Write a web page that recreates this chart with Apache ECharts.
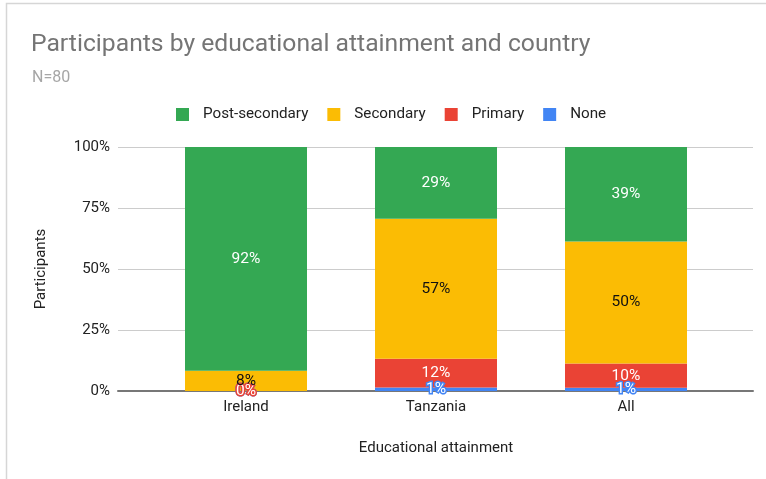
<!DOCTYPE html>
<html>
<head>
<meta charset="utf-8">
<style>
  html, body { margin: 0; padding: 0; background: #fff; }
  #chart { width: 766px; height: 479px; }
</style>
<script src="https://cdn.jsdelivr.net/npm/echarts@6/dist/echarts.min.js"></script>
</head>
<body>
<div id="chart"></div>
<script>
// Share of participants (%) in each education level, per country
const countries = ['Ireland', 'Tanzania', 'All'];
const noneShare = [0, 1.4, 1.3];
const primaryShare = [0, 11.8, 10.0];
const secondaryShare = [8.3, 57.4, 50.0];
const postSecondaryShare = [91.7, 29.4, 38.7];
const yTicks = [0, 25, 50, 75, 100];

const FONT = 'Roboto, "Noto Sans", Arial, sans-serif';
const COLORS = {
  post: '#34a853',
  secondary: '#fbbc04',
  primary: '#ea4335',
  none: '#4285f4'
};

const pct = p => Math.round(p.value) + '%';

function barSeries(name, data, color, labelStyle) {
  return {
    name: name,
    type: 'bar',
    stack: 'total',
    xAxisIndex: 1,
    yAxisIndex: 1,
    barWidth: 122,
    data: data,
    itemStyle: { color: color },
    label: Object.assign({
      show: true,
      position: 'inside',
      formatter: pct,
      fontFamily: FONT,
      fontSize: 15.5
    }, labelStyle)
  };
}

const chart = echarts.init(document.getElementById('chart'));
chart.setOption({
  backgroundColor: '#fff',
  animation: false,
  graphic: [{
    type: 'rect',
    shape: { x: 6.5, y: 3.5, width: 900, height: 600 },
    style: { fill: 'none', stroke: '#d6d6d6', lineWidth: 1.5 },
    silent: true,
    z: -10
  }],
  title: [{
    text: 'Participants by educational attainment and country',
    left: 31,
    top: 32,
    padding: 0,
    textStyle: { fontFamily: FONT, fontSize: 24.7, fontWeight: 'normal', color: '#757575' }
  }, {
    text: 'N=80',
    left: 32,
    top: 70,
    padding: 0,
    textStyle: { fontFamily: FONT, fontSize: 16, fontWeight: 'normal', color: '#a6a6a6' }
  }],
  legend: {
    data: ['Post-secondary', 'Secondary', 'Primary', 'None'],
    left: 176,
    top: 107,
    padding: 0,
    itemWidth: 13,
    itemHeight: 13,
    itemGap: 19,
    icon: 'rect',
    textStyle: { fontFamily: FONT, fontSize: 15.2, color: '#222', padding: [0, 0, 0, 9] }
  },
  grid: [
    { left: 118, right: 13, top: 147, bottom: 88 },
    { left: 151, right: 45, top: 147, bottom: 88 }
  ],
  xAxis: [{
    gridIndex: 0,
    type: 'value',
    min: 0,
    max: 1,
    axisLabel: { show: false },
    axisTick: { show: false },
    splitLine: { show: false },
    axisLine: { show: true, lineStyle: { color: '#777', width: 2 } }
  }, {
    gridIndex: 1,
    type: 'category',
    data: countries,
    axisLine: { show: false },
    axisTick: { show: false },
    axisLabel: { fontFamily: FONT, fontSize: 15, color: '#222', margin: 9 },
    name: 'Educational attainment',
    nameLocation: 'middle',
    nameGap: 50,
    nameTextStyle: { fontFamily: FONT, fontSize: 15, color: '#222' }
  }],
  yAxis: [{
    gridIndex: 0,
    type: 'value',
    min: yTicks[0],
    max: yTicks[yTicks.length - 1],
    interval: yTicks[1] - yTicks[0],
    axisLine: { show: false },
    axisTick: { show: false },
    axisLabel: {
      formatter: '{value}%',
      fontFamily: FONT,
      fontSize: 15,
      color: '#222',
      margin: 8
    },
    splitLine: { show: true, lineStyle: { color: '#cccccc', width: 1 } },
    name: 'Participants',
    nameLocation: 'middle',
    nameRotate: 90,
    nameGap: 69,
    nameTextStyle: { fontFamily: FONT, fontSize: 15, color: '#222' }
  }, {
    gridIndex: 1,
    type: 'value',
    min: yTicks[0],
    max: yTicks[yTicks.length - 1],
    interval: yTicks[1] - yTicks[0],
    show: false
  }],
  series: [
    barSeries('None', noneShare, COLORS.none, {
      color: '#fff', textBorderColor: COLORS.none, textBorderWidth: 3
    }),
    barSeries('Primary', primaryShare, COLORS.primary, {
      color: '#fff', textBorderColor: COLORS.primary, textBorderWidth: 3
    }),
    barSeries('Secondary', secondaryShare, COLORS.secondary, { color: '#111' }),
    barSeries('Post-secondary', postSecondaryShare, COLORS.post, { color: '#fff' })
  ]
});
</script>
</body>
</html>
